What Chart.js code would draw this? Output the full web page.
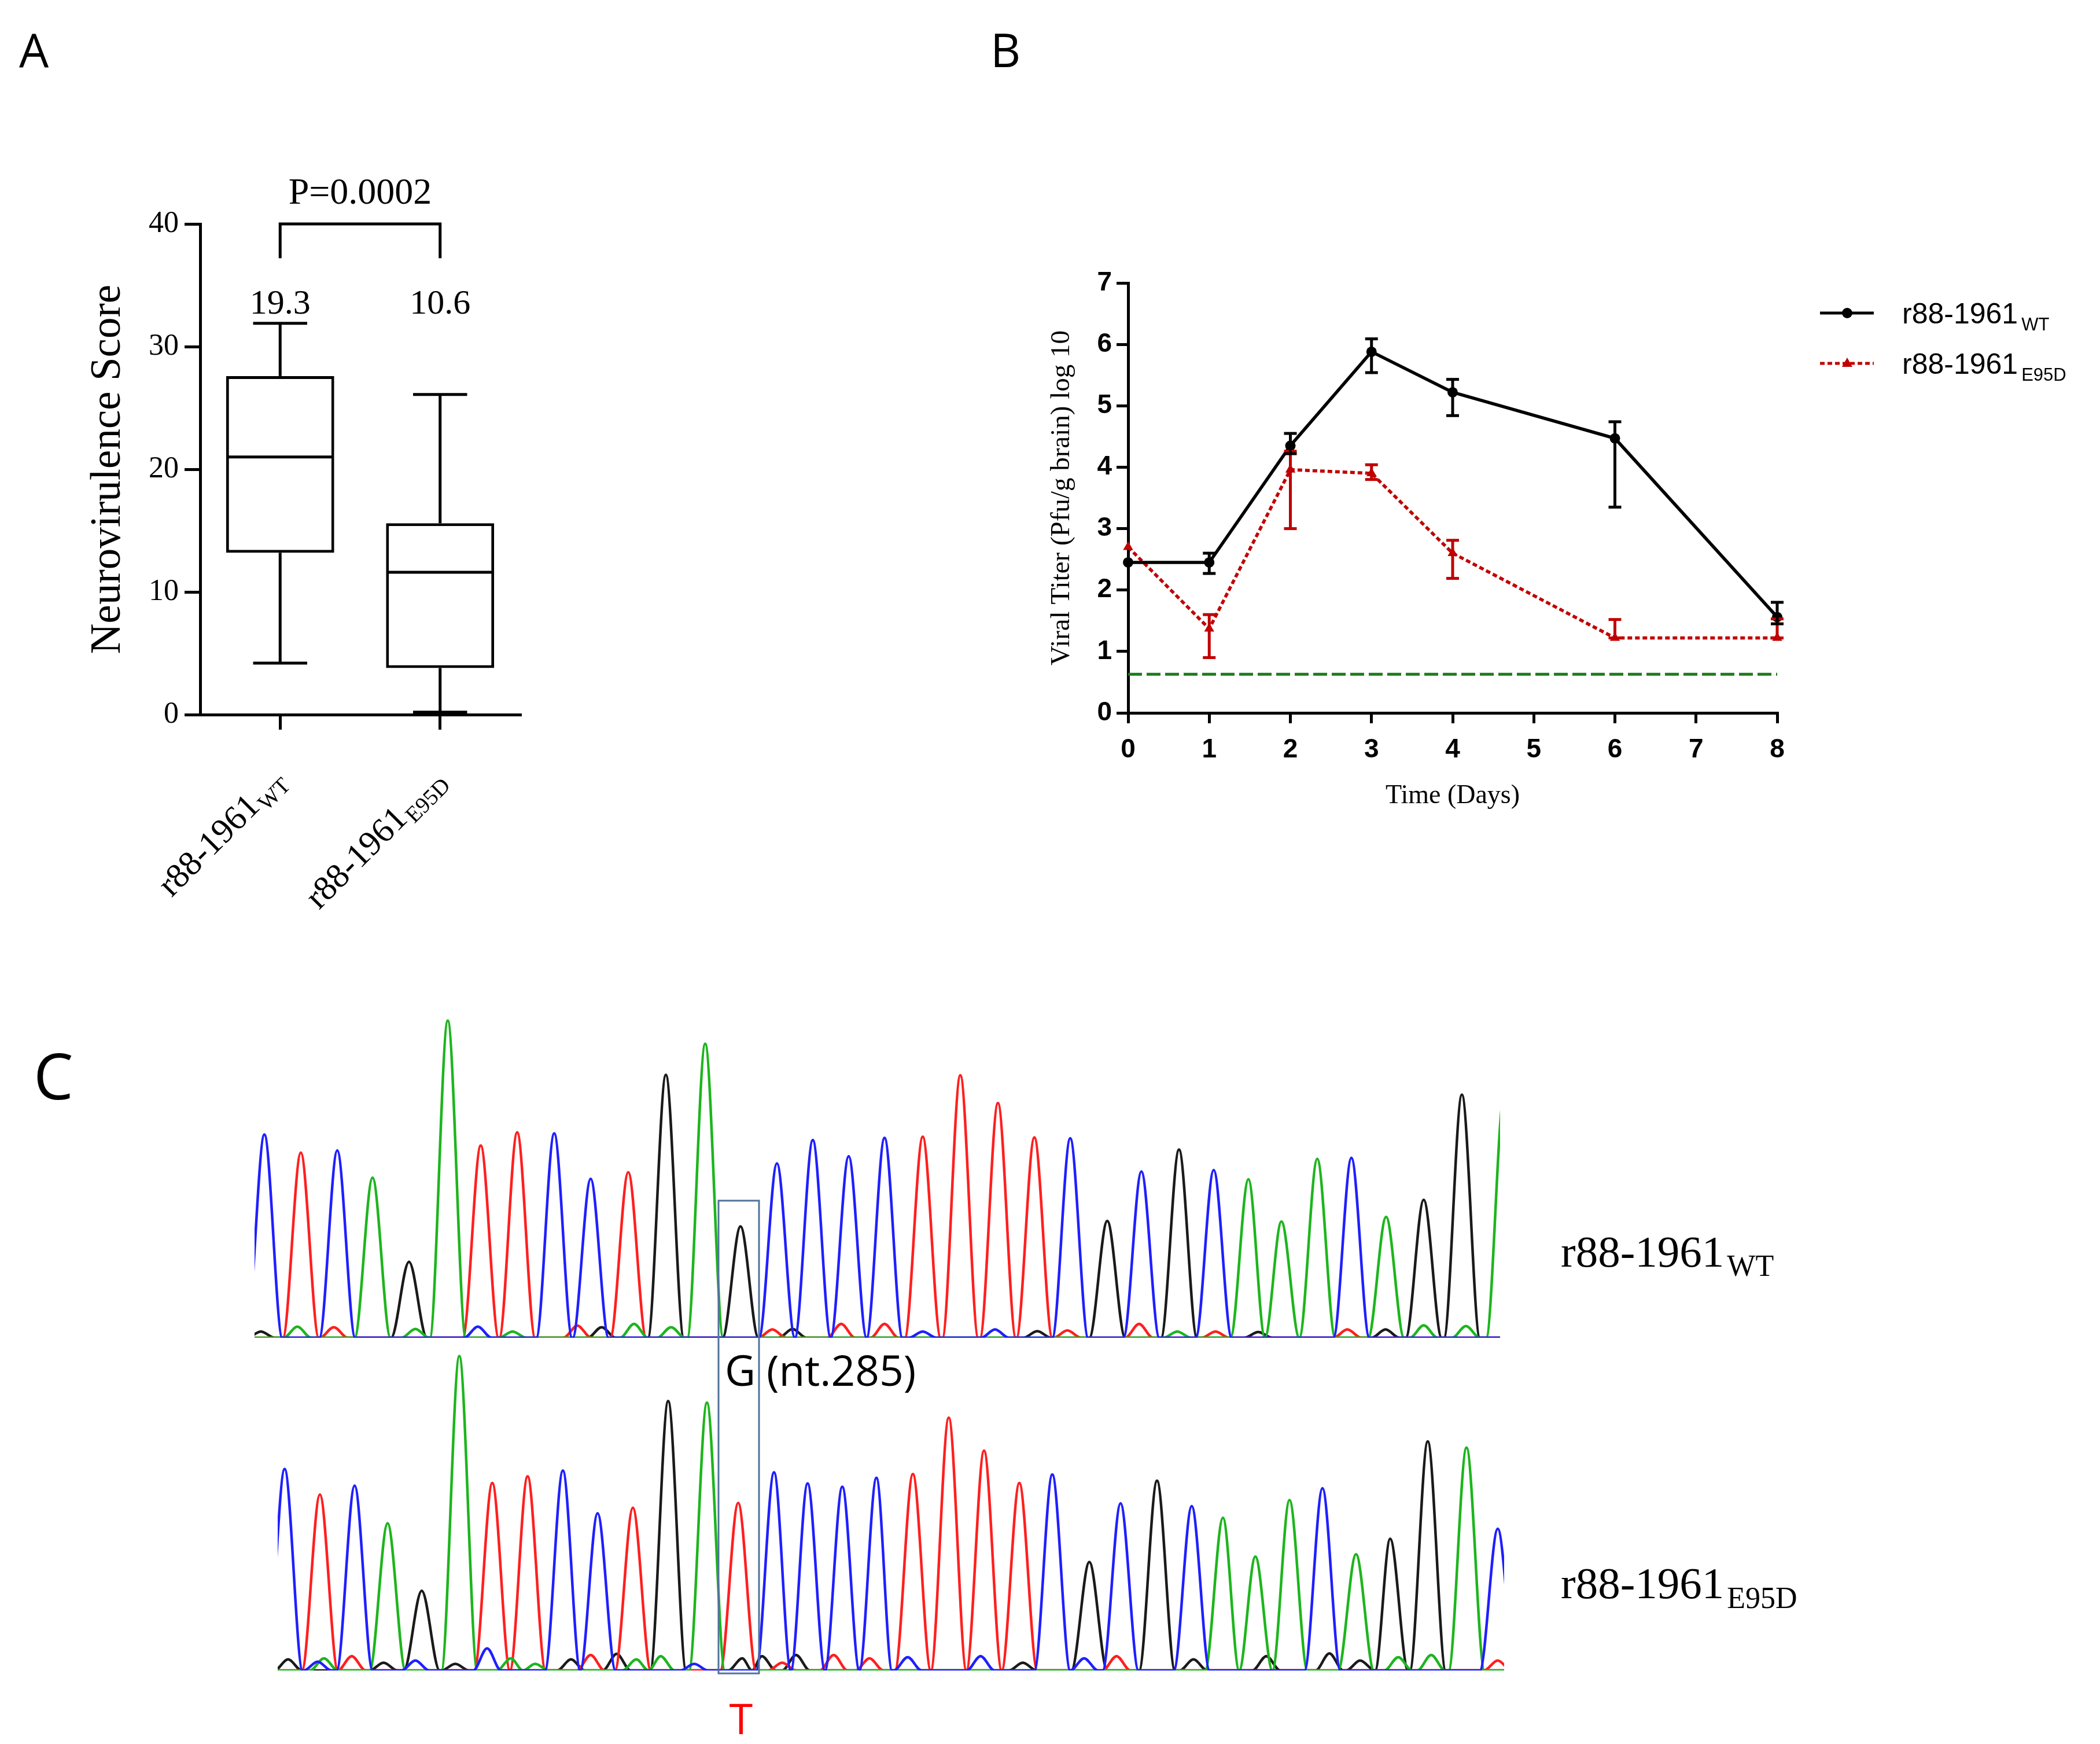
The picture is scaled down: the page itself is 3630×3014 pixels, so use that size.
<!DOCTYPE html>
<html><head><meta charset="utf-8">
<script src="https://cdn.jsdelivr.net/npm/chart.js@4.4.1/dist/chart.umd.min.js"></script>
<style>
html,body{margin:0;padding:0;background:#fff;width:3630px;height:3014px;overflow:hidden}
canvas{position:absolute}
#ov{position:absolute;left:0;top:0;pointer-events:none}
</style></head><body>
<canvas id="cA" width="950" height="1400" style="left:0px;top:250px;width:950px;height:1400px"></canvas>
<canvas id="cB" width="1930" height="1100" style="left:1700px;top:350px;width:1930px;height:1100px"></canvas>
<canvas id="cT" width="2250" height="640" style="left:400px;top:1700px;width:2250px;height:640px"></canvas>
<canvas id="cM" width="2250" height="640" style="left:400px;top:2280px;width:2250px;height:640px"></canvas>
<svg id="ov" width="3630" height="3014" xmlns="http://www.w3.org/2000/svg">
  <text x="33" y="116" font-family="Open Sans" font-size="81" fill="#000">A</text>
  <text x="1712" y="116" font-family="Open Sans" font-size="81" fill="#000">B</text>
  <text x="58" y="1900" font-family="Open Sans" font-size="109" fill="#000">C</text>
  <rect x="1242" y="2075" width="70" height="817" fill="none" stroke="#50729a" stroke-width="3"/>
  <text x="1253" y="2395" font-family="Open Sans" font-size="73" fill="#000">G (nt.285)</text>
  <text x="1281" y="2997" font-family="Open Sans" font-size="74" fill="#ff0000" text-anchor="middle">T</text>
  <text x="2698" y="2189" font-family="Liberation Serif" font-size="77" fill="#000">r88-1961<tspan font-size="52" dx="5" dy="16">WT</tspan></text>
  <text x="2698" y="2762" font-family="Liberation Serif" font-size="77" fill="#000">r88-1961<tspan font-size="52" dx="5" dy="17">E95D</tspan></text>
</svg>
<script>
// ---------- Panel A: neurovirulence score box plot ----------
const groups = ['r88-1961', 'r88-1961'];
const groupSubs = ['WT', 'E95D'];
const boxMin = [4.2, 0.2];
const boxQ1 = [13.2, 3.8];
const boxMedian = [21.0, 11.6];
const boxQ3 = [27.6, 15.6];
const boxMax = [31.9, 26.1];
const groupMeans = ['19.3', '10.6'];
const pValue = 'P=0.0002';
const scoreTicks = [0, 10, 20, 30, 40];

// ---------- Panel B: viral titer time course ----------
const days = [0, 1, 2, 3, 4, 6, 8];
const wtTiter = [2.45, 2.45, 4.35, 5.88, 5.22, 4.47, 1.56];
const wtUpper = [2.45, 2.60, 4.55, 6.09, 5.43, 4.74, 1.80];
const wtLower = [2.45, 2.27, 4.22, 5.54, 4.84, 3.35, 1.45];
const e95dTiter = [2.70, 1.37, 3.96, 3.90, 2.60, 1.22, 1.22];
const e95dUpper = [2.70, 1.60, 4.26, 4.04, 2.81, 1.52, 1.53];
const e95dLower = [2.70, 0.90, 3.00, 3.80, 2.19, 1.22, 1.22];
const detectionDays = [0, 8];
const detectionLimit = [0.63, 0.63];
const dayTicks = [0, 1, 2, 3, 4, 5, 6, 7, 8];
const titerTicks = [0, 1, 2, 3, 4, 5, 6, 7];

// ---------- Panel C: sequencing chromatograms ----------
const wtPeakPos = [457,520,583,644,707,774,831,894,958,1021,1086,1151,1219,1280,1343,1405,1467,1529,1595,1660,1725,1788,1850,1914,1973,2038,2098,2158,2215,2277,2336,2396,2461,2527,2600];
const wtPeakHeight = [918,836,846,723,343,1433,868,928,923,718,748,1188,1328,503,788,893,820,903,908,1186,1060,905,901,528,751,850,758,716,525,808,813,546,623,1098,1100];
const wtBases = 'CTCAGATTCCTGAGCCCCTTTTCGCGCAAACAGGA';
const wtNoise = [[451,28,'G'],[514,50,'A'],[577,48,'T'],[718,40,'A'],[826,50,'C'],[886,28,'A'],[998,55,'T'],[1040,48,'G'],[1096,63,'A'],[1160,48,'A'],[1335,38,'T'],[1370,40,'G'],[1454,63,'T'],[1529,63,'T'],[1595,28,'C'],[1720,38,'C'],[1793,30,'G'],[1845,33,'T'],[1969,63,'T'],[2035,28,'A'],[2101,28,'T'],[2175,26,'G'],[2329,38,'T'],[2395,38,'G'],[2461,56,'A'],[2534,53,'A']];
const wtRange = [440, 2593];

const mutPeakPos = [492,553,613,670,729,794,851,912,973,1033,1094,1155,1222,1276,1338,1396,1456,1515,1578,1640,1701,1762,1819,1883,1937,2000,2060,2114,2170,2229,2286,2344,2403,2468,2535,2589];
const mutPeakHeight = [910,795,835,665,360,1420,847,877,903,710,735,1217,1210,757,895,845,830,870,887,1142,993,847,885,490,755,857,743,690,515,770,823,525,595,1035,1007,640];
const mutBases = 'CTCAGATTCCTGATCCCCTTTTCGCGCAAACAGGAC';
const mutNoise = [[498,50,'G'],[549,40,'C'],[560,55,'A'],[608,65,'T'],[663,35,'G'],[718,45,'C'],[787,30,'G'],[842,100,'C'],[883,55,'A'],[925,30,'A'],[987,50,'G'],[1021,70,'T'],[1066,75,'G'],[1100,50,'A'],[1142,65,'A'],[1200,30,'C'],[1283,55,'G'],[1317,65,'G'],[1352,35,'T'],[1376,70,'G'],[1441,70,'T'],[1503,55,'T'],[1569,60,'C'],[1695,65,'C'],[1768,35,'G'],[1874,55,'C'],[1930,65,'T'],[2063,50,'G'],[2189,65,'G'],[2298,77,'G'],[2351,45,'G'],[2417,60,'A'],[2474,70,'A'],[2589,45,'T']];
const mutRange = [480, 2600];

const baseColors = {A: '#1db51d', C: '#1f1fff', G: '#1a1a1a', T: '#ff1f1f'};

const SERIF = '"Liberation Serif", "Times New Roman", serif';
const SANS = '"Liberation Sans", Arial, sans-serif';

function seg(ctx, x1, y1, x2, y2) { ctx.beginPath(); ctx.moveTo(x1, y1); ctx.lineTo(x2, y2); ctx.stroke(); }

// ---------- Chart A ----------
const boxPlugin = {
  id: 'boxExtras',
  afterDatasetsDraw(chart) {
    const {ctx, scales: {x, y}, chartArea: ca} = chart;
    const meta = chart.getDatasetMeta(0);
    ctx.save();
    ctx.strokeStyle = '#000'; ctx.lineWidth = 5; ctx.lineCap = 'butt';
    meta.data.forEach((bar, i) => {
      const cx = bar.x, w = bar.width, cw = w / 2;
      const yMed = y.getPixelForValue(boxMedian[i]);
      seg(ctx, cx - w / 2 + 2, yMed, cx + w / 2 - 2, yMed);
      const yQ3 = y.getPixelForValue(boxQ3[i]), yMax = y.getPixelForValue(boxMax[i]);
      const yQ1 = y.getPixelForValue(boxQ1[i]), yMin = y.getPixelForValue(boxMin[i]);
      seg(ctx, cx, yQ3, cx, yMax);
      seg(ctx, cx - cw / 2, yMax, cx + cw / 2, yMax);
      seg(ctx, cx, yQ1, cx, yMin);
      seg(ctx, cx - cw / 2, yMin, cx + cw / 2, yMin);
    });
    // significance bracket
    const x0 = x.getPixelForValue(0), x1 = x.getPixelForValue(1);
    const yT = y.getPixelForValue(40), yB = y.getPixelForValue(37.2);
    ctx.beginPath(); ctx.moveTo(x0, yB); ctx.lineTo(x0, yT); ctx.lineTo(x1, yT); ctx.lineTo(x1, yB); ctx.stroke();
    ctx.fillStyle = '#000'; ctx.textAlign = 'center'; ctx.textBaseline = 'alphabetic';
    ctx.font = '64px ' + SERIF;
    ctx.fillText(pValue, (x0 + x1) / 2, yT - 35);
    ctx.font = '60px ' + SERIF;
    groupMeans.forEach((m, i) => ctx.fillText(m, x.getPixelForValue(i), y.getPixelForValue(32.7)));
    // rotated category labels with subscripts
    groups.forEach((g, i) => {
      const cx = x.getPixelForValue(i);
      ctx.font = '60px ' + SERIF; const wm = ctx.measureText(g).width;
      ctx.font = '39px ' + SERIF; const ws = ctx.measureText(groupSubs[i]).width;
      ctx.save();
      ctx.translate(cx + 12, ca.bottom + 117);
      ctx.rotate(-Math.PI / 4);
      ctx.textAlign = 'left';
      ctx.font = '60px ' + SERIF; ctx.fillText(g, -(wm + ws + 2), 0);
      ctx.font = '39px ' + SERIF; ctx.fillText(groupSubs[i], -ws, 11);
      ctx.restore();
    });
    ctx.restore();
  }
};

new Chart(document.getElementById('cA'), {
  type: 'bar',
  data: {
    labels: groups.map((g, i) => g + groupSubs[i]),
    datasets: [{
      data: boxQ1.map((q, i) => [q, boxQ3[i]]),
      backgroundColor: '#ffffff', borderColor: '#000000', borderWidth: 5, borderSkipped: false,
      barPercentage: 0.676, categoryPercentage: 1
    }]
  },
  options: {
    responsive: false, animation: false, devicePixelRatio: 1, events: [],
    layout: {padding: {left: 0, right: 51, top: 137, bottom: 0}},
    plugins: {legend: {display: false}, tooltip: {enabled: false}},
    scales: {
      x: {
        offset: true,
        grid: {display: true, drawOnChartArea: false, drawTicks: true, tickLength: 26, lineWidth: 5, color: '#000', offset: false},
        border: {display: true, color: '#000', width: 5},
        ticks: {display: false},
        afterFit: s => { s.height = 415; }
      },
      y: {
        min: 0, max: 40,
        afterBuildTicks: s => { s.ticks = scoreTicks.map(v => ({value: v})); },
        grid: {drawOnChartArea: false, tickLength: 27, lineWidth: 5, color: '#000'},
        border: {color: '#000', width: 5},
        ticks: {font: {family: SERIF, size: 52}, color: '#000', padding: 10},
        title: {display: true, text: 'Neurovirulence Score', font: {family: SERIF, size: 73}, color: '#000', padding: {top: 144, bottom: 0}},
        afterFit: s => { s.width = 346; }
      }
    }
  },
  plugins: [boxPlugin]
});

// ---------- Chart B ----------
const RED = '#c00000';
const errPlugin = {
  id: 'errBars',
  afterDatasetsDraw(chart) {
    const {ctx, scales: {x, y}} = chart;
    ctx.save(); ctx.lineWidth = 5; ctx.lineCap = 'butt';
    [[e95dUpper, e95dLower, RED], [wtUpper, wtLower, '#000']].forEach(([up, lo, col]) => {
      ctx.strokeStyle = col;
      days.forEach((d, i) => {
        const px = x.getPixelForValue(d), yu = y.getPixelForValue(up[i]), yl = y.getPixelForValue(lo[i]);
        if (Math.abs(yu - yl) < 1) return;
        seg(ctx, px, yu, px, yl);
        seg(ctx, px - 11, yu, px + 11, yu);
        seg(ctx, px - 11, yl, px + 11, yl);
      });
    });
    ctx.restore();
  }
};
const legendItems = [
  {main: 'r88-1961', sub: 'WT', color: '#000', dash: [], marker: 'circle'},
  {main: 'r88-1961', sub: 'E95D', color: RED, dash: [8, 5], marker: 'triangle'}
];
const legendPlugin = {
  id: 'subLegend',
  afterDraw(chart) {
    const {ctx, chartArea: ca} = chart;
    ctx.save();
    legendItems.forEach((it, k) => {
      const yy = ca.top + 52 + k * 87;
      ctx.strokeStyle = it.color; ctx.fillStyle = it.color; ctx.lineWidth = 5; ctx.setLineDash(it.dash);
      seg(ctx, ca.right + 74, yy, ca.right + 167, yy);
      ctx.setLineDash([]);
      const mx = ca.right + 121;
      ctx.beginPath();
      if (it.marker === 'circle') ctx.arc(mx, yy, 9, 0, Math.PI * 2);
      else { ctx.moveTo(mx, yy - 10); ctx.lineTo(mx + 9, yy + 6); ctx.lineTo(mx - 9, yy + 6); ctx.closePath(); }
      ctx.fill();
      ctx.fillStyle = '#000'; ctx.textAlign = 'left'; ctx.textBaseline = 'alphabetic';
      ctx.font = '50px ' + SANS;
      const wm = ctx.measureText(it.main).width;
      ctx.fillText(it.main, ca.right + 216, yy + 18);
      ctx.font = '31px ' + SANS;
      ctx.fillText(it.sub, ca.right + 216 + wm + 6, yy + 30);
    });
    ctx.restore();
  }
};

new Chart(document.getElementById('cB'), {
  type: 'line',
  data: {
    datasets: [
      {label: 'r88-1961WT', data: days.map((d, i) => ({x: d, y: wtTiter[i]})), borderColor: '#000', backgroundColor: '#000',
       borderWidth: 5.5, pointStyle: 'circle', pointRadius: 9, pointBorderWidth: 0, tension: 0, clip: false},
      {label: 'r88-1961E95D', data: days.map((d, i) => ({x: d, y: e95dTiter[i]})), borderColor: RED, backgroundColor: RED,
       borderWidth: 5.5, borderDash: [8, 5], pointStyle: 'triangle', pointRadius: 10, pointBorderWidth: 0, tension: 0, clip: false},
      {label: 'limit', data: detectionDays.map((d, i) => ({x: d, y: detectionLimit[i]})), borderColor: '#1e7b1e',
       borderWidth: 5, borderDash: [24, 8], pointRadius: 0, tension: 0}
    ]
  },
  options: {
    responsive: false, animation: false, devicePixelRatio: 1, events: [],
    layout: {padding: {left: 0, right: 558, top: 139, bottom: 0}},
    plugins: {legend: {display: false}, tooltip: {enabled: false}},
    scales: {
      x: {
        type: 'linear', min: 0, max: 8,
        afterBuildTicks: s => { s.ticks = dayTicks.map(v => ({value: v})); },
        grid: {drawOnChartArea: false, tickLength: 18, lineWidth: 5, color: '#000'},
        border: {color: '#000', width: 5},
        ticks: {font: {family: SANS, size: 46, weight: 'bold'}, color: '#000', padding: 19},
        title: {display: true, text: 'Time (Days)', font: {family: SERIF, size: 46}, color: '#000', padding: {top: 0, bottom: 46}},
        afterFit: s => { s.height = 218; }
      },
      y: {
        type: 'linear', min: 0, max: 7,
        afterBuildTicks: s => { s.ticks = titerTicks.map(v => ({value: v})); },
        grid: {drawOnChartArea: false, tickLength: 20, lineWidth: 5, color: '#000'},
        border: {color: '#000', width: 5},
        ticks: {font: {family: SANS, size: 46, weight: 'bold'}, color: '#000', padding: 8},
        title: {display: true, text: 'Viral Titer (Pfu/g brain) log 10', font: {family: SERIF, size: 47}, color: '#000', padding: {top: 107, bottom: 0}},
        afterFit: s => { s.width = 250; }
      }
    }
  },
  plugins: [errPlugin, legendPlugin]
});

// ---------- Chart C: chromatograms ----------
function traceSeries(pos, hts, bases, noise, base, range) {
  const feats = [];
  pos.forEach((p, i) => { if (bases[i] === base) feats.push({x: p, h: hts[i], w: 31}); });
  noise.forEach(n => { if (n[2] === base) feats.push({x: n[0], h: n[1], w: 24}); });
  feats.sort((a, b) => a.x - b.x);
  const pts = [{x: range[0] - 60, y: 0}];
  feats.forEach((f, k) => {
    const left = f.x - f.w;
    if (left > pts[pts.length - 1].x) pts.push({x: left, y: 0});
    pts.push({x: f.x, y: f.h});
    const next = feats[k + 1];
    let right = f.x + f.w;
    if (next && right > next.x - next.w) right = (f.x + next.x) / 2;
    pts.push({x: right, y: 0});
  });
  pts.push({x: range[1] + 60, y: 0});
  return pts;
}
function chromChart(id, pos, hts, bases, noise, range, pad) {
  new Chart(document.getElementById(id), {
    type: 'line',
    data: {
      datasets: ['C', 'A', 'T', 'G'].map(b => ({
        data: traceSeries(pos, hts, bases, noise, b, range),
        borderColor: baseColors[b], borderWidth: 4.5, pointRadius: 0,
        cubicInterpolationMode: 'monotone', fill: false
      }))
    },
    options: {
      responsive: false, animation: false, devicePixelRatio: 1, events: [],
      layout: {padding: pad},
      plugins: {legend: {display: false}, tooltip: {enabled: false}},
      scales: {
        x: {type: 'linear', min: range[0], max: range[1], display: false},
        y: {type: 'linear', min: 0, max: 1500, display: false}
      }
    }
  });
}
chromChart('cT', wtPeakPos, wtPeakHeight, wtBases, wtNoise, wtRange, {left: 40, right: 57, top: 38, bottom: 28});
chromChart('cM', mutPeakPos, mutPeakHeight, mutBases, mutNoise, mutRange, {left: 80, right: 50, top: 33, bottom: 33});
</script>
</body></html>
